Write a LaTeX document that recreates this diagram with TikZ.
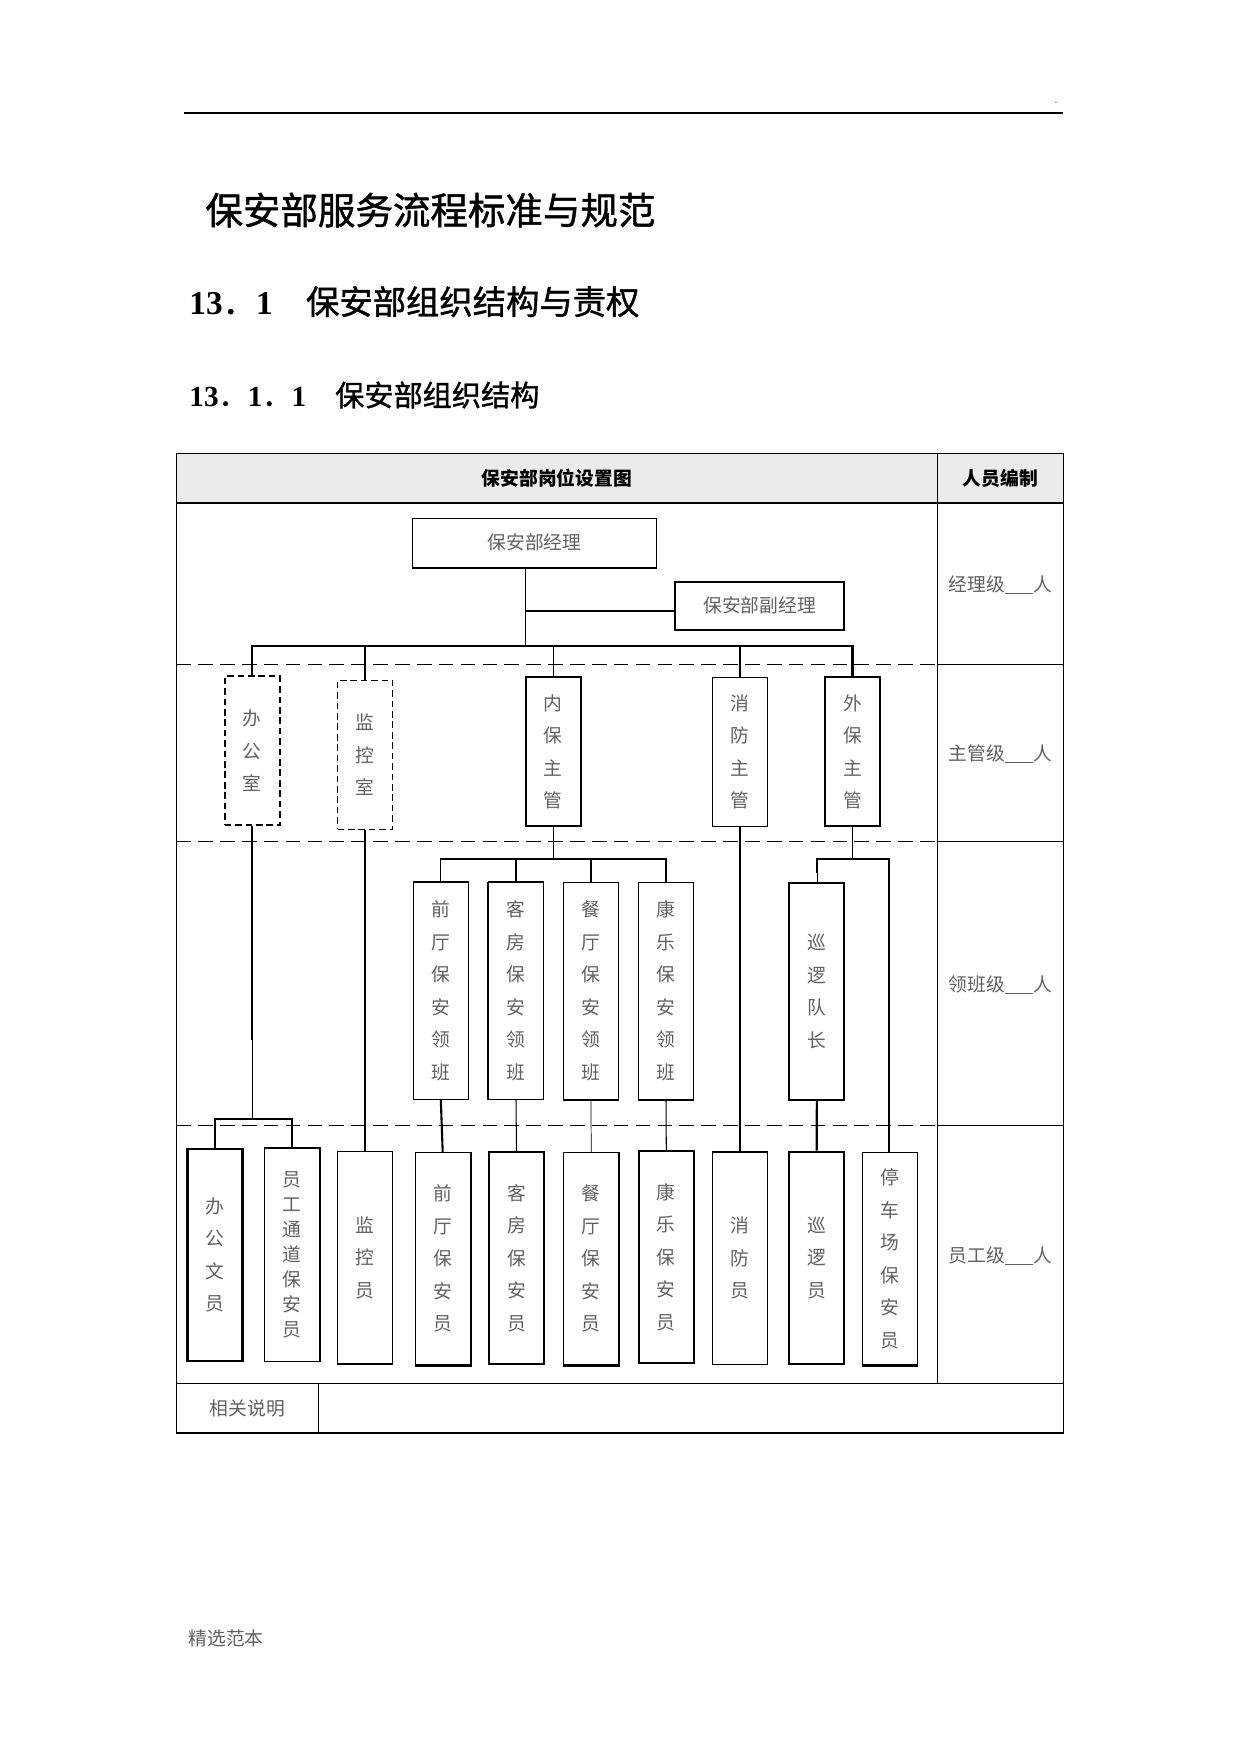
\documentclass[tikz,border=0pt]{standalone}
\usepackage{fontspec}
\setmainfont{Noto Sans CJK SC}
\newfontfamily\numfont{Liberation Serif}
\newfontfamily\heifont[FakeBold=1.2]{Noto Sans CJK SC}
\begin{document}
\begin{tikzpicture}[x=0.48pt,y=-0.48pt]
\tikzset{
  thinln/.style={line width=0.5pt},
  thickln/.style={line width=1pt},
  box/.style={draw, line width=0.5pt, inner sep=0pt, align=center, text=black!62,
    font=\fontsize{9}{15.6}\selectfont},
  kbox/.style={box, line width=1pt},
  dbox/.style={box, dash pattern=on 3.2pt off 1.8pt},
  supsz/.style={minimum width=55*0.48pt, minimum height=149*0.48pt},
  ldsz/.style={minimum width=55*0.48pt, minimum height=216.5*0.48pt},
  stsz/.style={minimum width=55*0.48pt, minimum height=212.3*0.48pt},
  sepln/.style={line width=0.5pt, dash pattern=on 7pt off 3.5pt},
  lbl/.style={inner sep=0pt, font=\fontsize{9}{11}\selectfont, text=black!62},
  hdr/.style={inner sep=0pt, font=\fontsize{9}{11}\selectfont\bfseries, text=black},
  ttl/.style={inner sep=0pt, anchor=west, text=black},
}
\fill[white] (0,0) rectangle (1241,1754);
\useasboundingbox (0,0) rectangle (1241,1754);

% page header
\draw[line width=1pt] (184.4,112.7) -- (1063,112.7);
\node[inner sep=0pt, font=\fontsize{5}{6}\selectfont, text=black!60] (hdot) at (1056,103) {.};

% headings
\node[ttl, font=\fontsize{18}{22}\selectfont\heifont] (h1) at (205,210) {保安部服务流程标准与规范};
\node[ttl, font=\fontsize{16}{20}\selectfont\heifont] (h2) at (189,301.7)
  {{\numfont\bfseries 13}．{\numfont\bfseries 1}　保安部组织结构与责权};
\node[ttl, font=\fontsize{14}{17}\selectfont\heifont] (h3) at (189,395)
  {{\numfont\bfseries 13}．{\numfont\bfseries 1}．{\numfont\bfseries 1}　保安部组织结构};

% table frame
\fill[black!8] (176.3,453.3) rectangle (1063.3,503);
\draw[thinln] (176.3,453.3) rectangle (1063.3,1433);
\draw[thinln] (176.3,503) -- (1063.3,503);
\draw[thinln] (176.3,1383.3) -- (1063.3,1383.3);
\draw[thinln] (937.3,453.3) -- (937.3,1383.3);
\draw[thinln] (318.3,1383.3) -- (318.3,1433);
\foreach \yy in {664.3,841.3,1125.3}{
  \draw[thinln] (937.3,\yy) -- (1063.3,\yy);
  \draw[sepln] (176.3,\yy) -- (937.3,\yy);
}
\node[hdr] (th1) at (556.8,478.5) {保安部岗位设置图};
\node[hdr] (th2) at (1000.3,478.5) {人员编制};
\node[lbl] (l1) at (1000.3,584.5) {经理级\rule[-1.2pt]{13.5pt}{0.5pt}人};
\node[lbl] (l2) at (1000.3,753.5) {主管级\rule[-1.2pt]{13.5pt}{0.5pt}人};
\node[lbl] (l3) at (1000.3,984.5) {领班级\rule[-1.2pt]{13.5pt}{0.5pt}人};
\node[lbl] (l4) at (1000.3,1255.5) {员工级\rule[-1.2pt]{13.5pt}{0.5pt}人};
\node[lbl] (note) at (247.3,1408.5) {相关说明};

% manager level
\node[box, minimum width=244.4*0.48pt, minimum height=48.7*0.48pt] (mgr) at (534.5,542.7) {保安部经理};
\node[kbox, minimum width=169.6*0.48pt, minimum height=48.3*0.48pt] (dep) at (759.5,605.8) {保安部副经理};

% supervisor level
\node[dbox, supsz, line width=0.8pt] (bgs) at (252.3,750.8) {办\\公\\室};
\node[dbox, supsz, line width=0.6pt] (jks) at (365,754.9) {监\\控\\室};
\node[kbox, supsz] (nb) at (553.3,751.7) {内\\保\\主\\管};
\node[box, supsz] (xf) at (740,751.7) {消\\防\\主\\管};
\node[kbox, supsz] (wb) at (852.5,751.7) {外\\保\\主\\管};

% leader level
\node[box, ldsz] (qt) at (440.8,990.8) {前\\厅\\保\\安\\领\\班};
\node[box, ldsz] (kf) at (516,990.8) {客\\房\\保\\安\\领\\班};
\node[box, ldsz] (ct) at (591,990.8) {餐\\厅\\保\\安\\领\\班};
\node[box, ldsz] (kl) at (666,990.8) {康\\乐\\保\\安\\领\\班};
\node[kbox, ldsz] (xldz) at (816.8,991.5) {巡\\逻\\队\\长};

% staff level
\node[kbox, stsz] (bgwy) at (215,1255) {办\\公\\文\\员};
\node[box, stsz, font=\fontsize{9}{12}\selectfont] (ygtd) at (292,1255) {员\\工\\通\\道\\保\\安\\员};
\node[box, stsz] (jky) at (365,1257.7) {监\\控\\员};
\node[box, stsz] (qtby) at (442.7,1258.8) {前\\厅\\保\\安\\员};
\node[kbox, stsz] (kfby) at (516.5,1258) {客\\房\\保\\安\\员};
\node[box, stsz] (ctby) at (591.2,1258.8) {餐\\厅\\保\\安\\员};
\node[kbox, stsz] (klby) at (666.3,1257) {康\\乐\\保\\安\\员};
\node[box, stsz] (xfy) at (740,1258.2) {消\\防\\员};
\node[kbox, stsz] (xly) at (816.7,1257.8) {巡\\逻\\员};
\node[box, stsz] (tccby) at (890.2,1258.8) {停\\车\\场\\保\\安\\员};

% heavier edges on some boxes
\draw[thickln] (mgr.south west) -- (mgr.south east);
\draw[thickln] (qt.north west) -- (qt.north east);
\draw[thickln] (kf.north west) -- (kf.north east);
\draw[thickln] (kf.north west) -- (kf.south west);
\draw[thickln] (ct.south west) -- (ct.south east);
\draw[thickln] (kl.south west) -- (kl.south east);
\draw[thickln] (ygtd.north west) -- (ygtd.north east) -- (ygtd.south east);
\draw[thickln] (jky.south west) -- (jky.south east);
\draw[thickln] (qtby.north east) -- (qtby.south east) -- (qtby.south west);
\draw[thickln] (ctby.north east) -- (ctby.south east) -- (ctby.south west);
\draw[thickln] (xfy.north west) -- (xfy.north east);
\draw[thickln] (tccby.south west) -- (tccby.south east);

% connectors: top
\coordinate (trunk) at (525.7,645.7);
\coordinate (depj) at (525.7,611);
\coordinate (busy) at (0,645.7);
\draw[thinln] (mgr.south -| trunk) -- (trunk);
\draw[thickln] (depj) -- (depj -| dep.west);
\draw[thickln, line cap=rect] (bgs.north |- busy) -- (wb.north |- busy);
\draw[thickln] (bgs.north |- busy) -- (bgs.north);
\draw[thickln] (jks.north |- busy) -- (jks.north);
\draw[thinln] (nb.north |- busy) -- (nb.north);
\draw[thickln] (xf.north |- busy) -- ([yshift=-10*0.48pt]xf.north |- busy);
\draw[thinln] ([yshift=-10*0.48pt]xf.north |- busy) -- (xf.north);
\draw[thickln] (wb.north |- busy) -- (wb.north);

% office branch
\coordinate (sby) at (0,1119);
\coordinate (bgmid) at (0,1040);
\draw[thickln] (bgs.south) -- (bgs.south |- bgmid);
\draw[thinln] (bgs.south |- bgmid) -- (bgs.south |- sby);
\draw[thickln, line cap=rect] (bgwy.north |- sby) -- (ygtd.north |- sby);
\draw[thinln] (bgwy.north |- sby) -- (bgwy.north);
\draw[thickln] (ygtd.north |- sby) -- (ygtd.north);

% monitoring branch
\draw[thickln] (jks.south) -- (jky.north);

% internal security branch
\coordinate (lby) at (0,859);
\draw[thinln] (nb.south) -- (nb.south |- lby);
\draw[thickln, line cap=rect] (qt.north |- lby) -- (kl.north |- lby);
\draw[thinln] (qt.north |- lby) -- (qt.north);
\draw[thickln] (kf.north |- lby) -- (kf.north);
\draw[thickln] (ct.north |- lby) -- (ct.north);
\draw[thickln] (kl.north |- lby) -- (kl.north);
\draw[thickln] (qt.south) -- (qtby.north);
\draw[thinln] (kf.south) -- (kfby.north);
\draw[line width=0.35pt] (ct.south) -- (ctby.north);
\draw[thinln] (kl.south) -- (klby.north);

% fire branch
\coordinate (xfmid) at (0,1096.7);
\draw[thinln] (xf.south) -- (xf.south |- xfmid);
\draw[thickln] (xf.south |- xfmid) -- (xfy.north);

% external security branch
\coordinate (wbL) at (817.3,859);
\coordinate (wbR) at (888.7,859);
\coordinate (wbLm) at (817.3,873);
\draw[thinln] (wb.south) -- (wb.south |- lby);
\draw[thickln, line cap=rect] (wbL) -- (wbR);
\draw[thickln] (wbL) -- (wbLm);
\draw[thinln] (wbLm) -- (wbLm |- xldz.north);
\draw[thickln] (wbR) -- (wbR |- tccby.north);
\draw[thickln] (xldz.south) -- (xly.north);

% footer
\node[inner sep=0pt, anchor=west, font=\fontsize{9}{11}\selectfont, text=black!62] (foot) at (188.3,1638.3) {精选范本};
\end{tikzpicture}
\end{document}
